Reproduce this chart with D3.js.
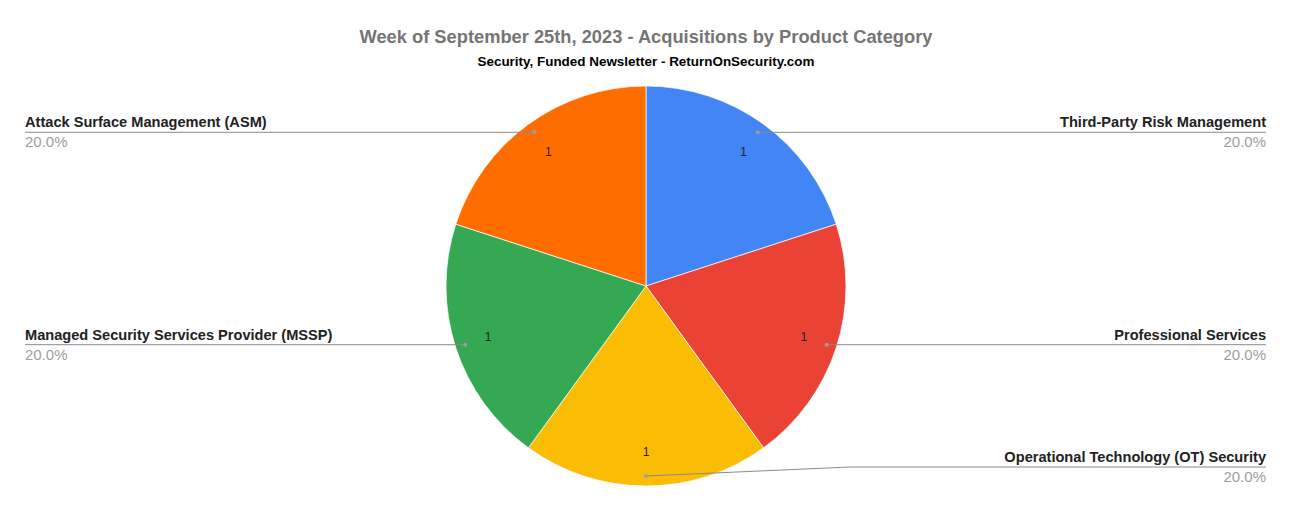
<!DOCTYPE html>
<html><head><meta charset="utf-8">
<script src="https://cdn.jsdelivr.net/npm/d3@7/dist/d3.min.js"></script>
<style>body{margin:0;background:#fff}svg{display:block}text{font-family:"Liberation Sans",Arial,sans-serif}</style>
</head><body><svg id="c" width="1292" height="512"></svg>
<script>
const title = "Week of September 25th, 2023 - Acquisitions by Product Category";
const subtitle = "Security, Funded Newsletter - ReturnOnSecurity.com";
const categories = ["Third-Party Risk Management","Professional Services","Operational Technology (OT) Security","Managed Security Services Provider (MSSP)","Attack Surface Management (ASM)"];
const values = [1,1,1,1,1];
const colors = ["#4285f4","#ea4335","#fbbc04","#34a853","#ff6d01"];

const W=1292,H=512,cx=646,cy=286,R=200;
const svg=d3.select("#c");
svg.append("text").attr("x",cx).attr("y",43).attr("text-anchor","middle").attr("font-size",18.3).attr("font-weight","bold").attr("fill","#757575").text(title);
svg.append("text").attr("x",cx).attr("y",66).attr("text-anchor","middle").attr("font-size",13.45).attr("font-weight","bold").attr("fill","#000").text(subtitle);

const pie=d3.pie().sort(null).value(d=>d.v);
const data=pie(categories.map((c,i)=>({c,v:values[i],col:colors[i]})));
const total=d3.sum(values);
const arc=d3.arc().innerRadius(0).outerRadius(R);
const g=svg.append("g").attr("transform",`translate(${cx},${cy})`);
g.selectAll("path").data(data).join("path").attr("d",arc).attr("fill",d=>d.data.col).attr("stroke","#fff").attr("stroke-width",0.7);

const txtArc=d3.arc().innerRadius(R*0.83).outerRadius(R*0.83);
g.selectAll("text.v").data(data).join("text").attr("class","v")
 .attr("transform",d=>`translate(${txtArc.centroid(d)})`).attr("text-anchor","middle").attr("dy","0.35em")
 .attr("font-size",12).attr("fill","#222").text(d=>d.data.v);

const dotArc=d3.arc().innerRadius(R*0.95).outerRadius(R*0.95);
const fmt=d3.format(".1%");
data.forEach(d=>{
  const [dx,dy]=dotArc.centroid(d);
  const px=cx+dx, py=cy+dy;
  const mid=(d.startAngle+d.endAngle)/2;
  const right=mid<Math.PI+1e-6 && mid>1e-6;
  const ly=Math.min(py,H-45);
  const endX=right?1266:25;
  let pts;
  if(Math.abs(ly-py)>0.5){ const bx=cx+(right?R+4:-R-4); pts=[[px,py],[bx,ly],[endX,ly]]; }
  else pts=[[px,py],[endX,ly]];
  svg.append("path").attr("d",d3.line()(pts)).attr("fill","none").attr("stroke","#8a8a8a").attr("stroke-width",1);
  svg.append("circle").attr("cx",px).attr("cy",py).attr("r",2).attr("fill","#9e9e9e");
  const anchor=right?"end":"start";
  svg.append("text").attr("x",endX).attr("y",ly-5).attr("text-anchor",anchor).attr("font-size",14.6).attr("font-weight","bold").attr("fill","#222").text(d.data.c);
  svg.append("text").attr("x",endX).attr("y",ly+15).attr("text-anchor",anchor).attr("font-size",15).attr("fill","#9e9e9e").text(fmt(d.data.v/total));
});
</script></body></html>
